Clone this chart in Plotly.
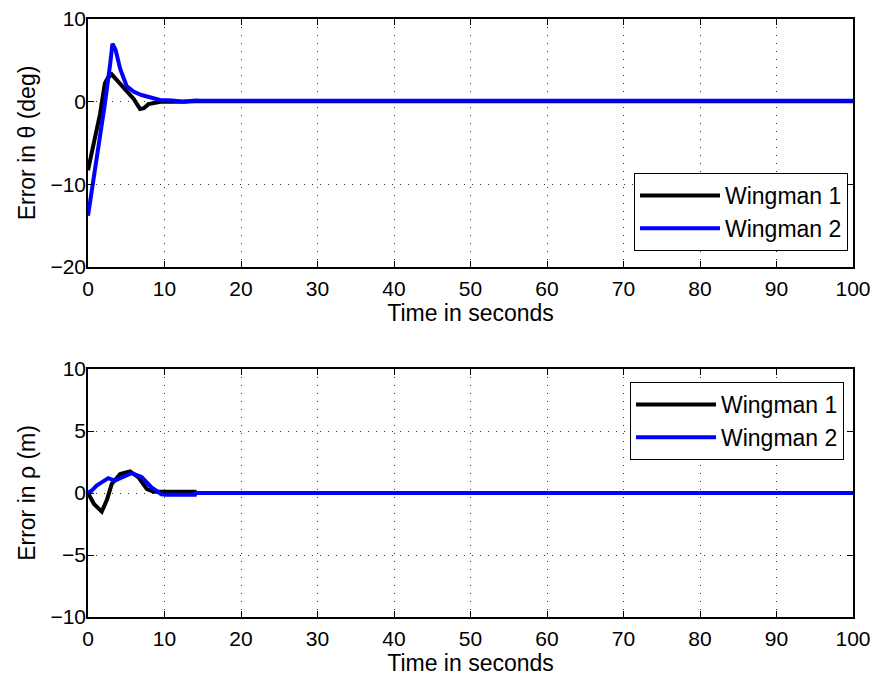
import plotly.graph_objects as go

# Top plot: error in theta (deg)
t_theta_w1 = [0, 0.26, 0.9, 1.57, 2.2, 2.6, 3.1, 4.1, 5.0, 6.0, 6.8, 7.3, 7.9, 9.5, 12, 14, 20, 100]
theta_w1 = [-8.3, -7.1, -4.7, -1.5, 2.2, 2.9, 3.3, 2.3, 1.4, 0.3, -0.9, -0.8, -0.3, 0.0, 0.0, 0.05, 0.05, 0.05]
t_theta_w2 = [0, 0.5, 1.13, 1.7, 2.2, 2.9, 3.2, 3.6, 4.2, 5.05, 6.0, 7.0, 8.3, 9.4, 11, 12.5, 14, 15, 20, 100]
theta_w2 = [-13.8, -10.8, -7.1, -3.6, -0.3, 4.6, 7.0, 6.3, 4.0, 1.9, 1.2, 0.8, 0.45, 0.2, 0.15, 0.0, 0.15, 0.1, 0.1, 0.1]

# Bottom plot: error in rho (m)
t_rho_w1 = [0, 0.8, 1.8, 2.5, 3.1, 4.2, 5.5, 6.6, 7.7, 8.6, 10, 14, 14.1, 100]
rho_w1 = [0, -0.9, -1.5, -0.5, 0.72, 1.53, 1.74, 1.26, 0.32, 0.1, 0.1, 0.1, 0.0, 0.0]
t_rho_w2 = [0, 0.5, 1.13, 2.0, 2.65, 3.5, 4.5, 5.7, 7.0, 8.3, 9.6, 10.2, 14, 14.1, 100]
rho_w2 = [0, 0.2, 0.6, 1.0, 1.2, 1.0, 1.3, 1.6, 1.3, 0.45, -0.1, -0.15, -0.15, 0.0, 0.0]

series_names = ["Wingman 1", "Wingman 2"]
colors = ["#000000", "#0000ff"]

fig = go.Figure()
fig.add_trace(go.Scatter(x=t_theta_w1, y=theta_w1, mode="lines", name=series_names[0],
                         line=dict(color=colors[0], width=4), xaxis="x", yaxis="y", legend="legend"))
fig.add_trace(go.Scatter(x=t_theta_w2, y=theta_w2, mode="lines", name=series_names[1],
                         line=dict(color=colors[1], width=4), xaxis="x", yaxis="y", legend="legend"))
fig.add_trace(go.Scatter(x=t_rho_w1, y=rho_w1, mode="lines", name=series_names[0],
                         line=dict(color=colors[0], width=4), xaxis="x2", yaxis="y2", legend="legend2"))
fig.add_trace(go.Scatter(x=t_rho_w2, y=rho_w2, mode="lines", name=series_names[1],
                         line=dict(color=colors[1], width=4), xaxis="x2", yaxis="y2", legend="legend2"))

fam = "Liberation Sans, Arial, sans-serif"
tickfont = dict(family=fam, size=21, color="black")
titlefont = dict(family=fam, size=23, color="black")
legfont = dict(family=fam, size=23, color="black")

axis_common = dict(
    showline=True, linecolor="black", linewidth=1.5, mirror="ticks",
    ticks="inside", ticklen=6, tickcolor="black", tickwidth=1,
    showgrid=True, gridcolor="#333333", griddash="1px,7px", gridwidth=1,
    zeroline=False, tickfont=tickfont, automargin=False,
)

xdom = [88 / 880, 853 / 880]
H = 681
fig.update_layout(
    width=880, height=681,
    margin=dict(l=0, r=0, t=0, b=0),
    paper_bgcolor="white", plot_bgcolor="white",
    font=tickfont,
    xaxis=dict(domain=xdom, range=[0, 100], tickvals=list(range(0, 101, 10)), anchor="y",
               ticklabelstandoff=2,
               title=dict(text="Time in seconds", font=titlefont, standoff=4), **axis_common),
    yaxis=dict(domain=[1 - 267 / H, 1 - 19 / H], range=[-20, 10], tickvals=[-20, -10, 0, 10],
               ticktext=["\u221220", "\u221210", "0", "10"], anchor="x", ticklabelstandoff=-4,
               title=dict(text="Error in \u03b8 (deg)", font=titlefont, standoff=8), **axis_common),
    xaxis2=dict(domain=xdom, range=[0, 100], tickvals=list(range(0, 101, 10)), anchor="y2",
                ticklabelstandoff=2,
                title=dict(text="Time in seconds", font=titlefont, standoff=4), **axis_common),
    yaxis2=dict(domain=[1 - 617 / H, 1 - 369 / H], range=[-10, 10], tickvals=[-10, -5, 0, 5, 10],
                ticktext=["\u221210", "\u22125", "0", "5", "10"], anchor="x2", ticklabelstandoff=-4,
                title=dict(text="Error in \u03c1 (m)", font=titlefont, standoff=8), **axis_common),
    legend=dict(x=848 / 880, y=1 - 173 / H, xanchor="right", yanchor="top",
                bordercolor="black", borderwidth=1, bgcolor="white", font=legfont,
                itemwidth=80),
    legend2=dict(x=844 / 880, y=1 - 382 / H, xanchor="right", yanchor="top",
                 bordercolor="black", borderwidth=1, bgcolor="white", font=legfont,
                 itemwidth=80),
    showlegend=True,
)

fig.write_html("out.html")
